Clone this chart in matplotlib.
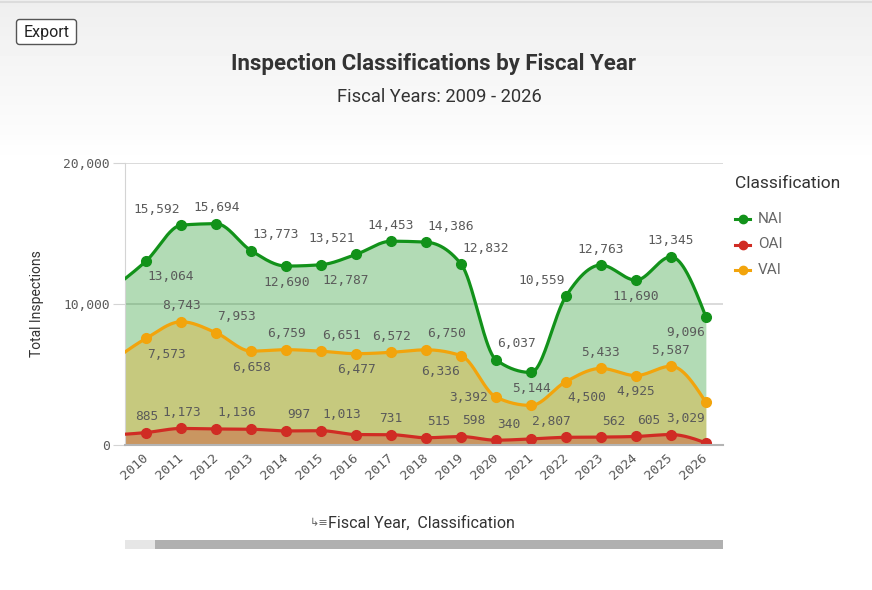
import numpy as np
import matplotlib.pyplot as plt
from matplotlib.lines import Line2D
from matplotlib.patches import FancyBboxPatch, Rectangle

# fiscal years (2009 sits just left of the visible window)
years = list(range(2009, 2027))
nai = [11050, 13064, 15592, 15694, 13773, 12690, 12787, 13521, 14453,
       14386, 12832, 6037, 5144, 10559, 12763, 11690, 13345, 9096]
oai = [700, 885, 1173, 1136, 1120, 997, 1013, 740, 731,
       515, 598, 340, 430, 545, 562, 605, 740, 150]
vai = [5900, 7573, 8743, 7953, 6658, 6759, 6651, 6477, 6572,
       6750, 6336, 3392, 2807, 4500, 5433, 4925, 5587, 3029]

# where each value label goes: c/r/l horizontally, a/b/m vertically, '' = hidden
nai_pos = ['', 'rb', 'la', 'ca', 'ra', 'cb', 'rb', 'la', 'ca', 'ra', 'ra', 'ra',
           'cb', 'la', 'ca', 'cb', 'ca', 'lb']
vai_pos = ['', 'rb', 'ca', 'ra', 'cb', 'ca', 'ra', 'cb', 'ca', 'ra', 'lb', 'lm',
           'rb', 'rb', 'ca', 'cb', 'ca', 'lb']
oai_pos = ['', 'ca', 'ca', 'ra', '', 'ra', 'ra', '', 'ca', 'ra', 'ra', 'ra',
           '', '', 'ra', 'ra', '', '']

GREEN = '#12921a'
RED = '#d02c24'
ORANGE = '#f2a40c'
TXT = '#5a5a5a'
MONO = 'DejaVu Sans Mono'
NARROW = ['Liberation Sans Narrow', 'Roboto']


def monotone(xs, ys, n=40):
    # monotone cubic (like d3 curveMonotoneX)
    xs = np.asarray(xs, float)
    ys = np.asarray(ys, float)
    h = np.diff(xs)
    s = np.diff(ys) / h
    m = np.zeros_like(ys)
    for k in range(1, len(ys) - 1):
        if s[k - 1] * s[k] <= 0:
            m[k] = 0
        else:
            p = (s[k - 1] * h[k] + s[k] * h[k - 1]) / (h[k - 1] + h[k])
            m[k] = (np.sign(s[k - 1]) + np.sign(s[k])) * min(abs(s[k - 1]), abs(s[k]), 0.5 * abs(p))
    m[0] = (3 * s[0] - m[1]) / 2
    m[-1] = (3 * s[-1] - m[-2]) / 2
    cx, cy = [], []
    for k in range(len(xs) - 1):
        t = np.linspace(0, 1, n, endpoint=False)
        h00 = 2 * t**3 - 3 * t**2 + 1
        h10 = t**3 - 2 * t**2 + t
        h01 = -2 * t**3 + 3 * t**2
        h11 = t**3 - t**2
        cx.append(xs[k] + t * h[k])
        cy.append(h00 * ys[k] + h10 * h[k] * m[k] + h01 * ys[k + 1] + h11 * h[k] * m[k + 1])
    cx.append([xs[-1]])
    cy.append([ys[-1]])
    return np.concatenate(cx), np.concatenate(cy)


fig = plt.figure(figsize=(8.72, 5.90), dpi=100)

# header gradient
bg = fig.add_axes([0, 0, 1, 1], zorder=-10)
grad = np.ones((590, 1))
grad[:165, 0] = np.linspace(0.935, 1.0, 165)
bg.imshow(grad, cmap='gray', vmin=0, vmax=1, aspect='auto', extent=[0, 872, 590, 0])
bg.plot([0, 872], [1.5, 1.5], color='#dcdcdc', lw=1.5)
bg.set_xlim(0, 872)
bg.set_ylim(590, 0)
bg.axis('off')

# export button
bg.add_patch(FancyBboxPatch((16.5, 19.5), 60, 25, boxstyle='round,pad=0,rounding_size=3',
                            facecolor='white', edgecolor='#555555', lw=1))
bg.text(46.5, 32.5, 'Export', ha='center', va='center', fontsize=11.5, color='#222222',
        family=NARROW)

fig.text(433 / 872, 1 - 64 / 590, 'Inspection Classifications by Fiscal Year', ha='center', va='center',
         fontsize=16, fontweight='bold', color='#333333', family=NARROW)
fig.text(439 / 872, 1 - 97 / 590, 'Fiscal Years: 2009 - 2026', ha='center', va='center',
         fontsize=13.2, color='#333333', family=NARROW)

ax = fig.add_axes([125 / 872, 1 - 445 / 590, 598 / 872, 282 / 590])
ax.set_facecolor('none')

series = [(nai, GREEN, nai_pos), (vai, ORANGE, vai_pos), (oai, RED, oai_pos)]
for vals, col, _ in series:
    cx, cy = monotone(years, vals)
    ax.fill_between(cx, 0, cy, color=col, alpha=0.32, lw=0, zorder=2)
for vals, col, _ in series:
    cx, cy = monotone(years, vals)
    ax.plot(cx, cy, color=col, lw=2.3, zorder=4, solid_capstyle='round')
    ax.plot(years, vals, 'o', color=col, ms=7, zorder=5)

hmap = {'c': ('center', 0), 'r': ('left', 1), 'l': ('right', -1)}
vmap = {'a': 16, 'b': -16, 'm': 0}
for vals, col, pos in series:
    for yr, v, p in zip(years, vals, pos):
        if not p:
            continue
        ha, dx = hmap[p[0]]
        dy = vmap[p[1]]
        if p[1] == 'm':
            dx = -8
        ax.annotate(f'{v:,}', (yr, v), xytext=(dx, dy), textcoords='offset pixels',
                    ha=ha, va='center', fontsize=9.3, color=TXT, family=MONO, zorder=6)

ax.set_xlim(2009.39, 2026.49)
ax.set_ylim(0, 20000)
ax.set_yticks([0, 10000, 20000])
ax.set_yticklabels(['0', '10,000', '20,000'], family=MONO, fontsize=9.3, color=TXT)
ax.set_xticks(years[1:])
ax.set_xticklabels([str(y) for y in years[1:]], rotation=42, ha='right', va='center',
                   rotation_mode='anchor', family=MONO, fontsize=9.5, color=TXT)
ax.tick_params(axis='x', length=0, pad=8)
ax.tick_params(axis='y', length=9, color='#d4d4d4', pad=2)
ax.grid(axis='y', color='#d4d4d4', lw=1.2, zorder=1)
for side in ['top', 'right']:
    ax.spines[side].set_visible(False)
ax.spines['left'].set_color('#d4d4d4')
ax.spines['bottom'].set_color('#b4b4b4')
ax.spines['bottom'].set_linewidth(1.5)
ax.spines['bottom'].set_zorder(7)
ax.set_ylabel('Total Inspections', fontsize=10, color='#333333', family='Roboto', labelpad=14)

# legend
fig.text(735 / 872, 1 - 183 / 590, 'Classification', ha='left', va='center',
         fontsize=12.5, color='#333333', family='Roboto')
for i, (name, col) in enumerate([('NAI', GREEN), ('OAI', RED), ('VAI', ORANGE)]):
    yy = 1 - (219 + 25.5 * i) / 590
    fig.add_artist(Line2D([735 / 872, 750 / 872], [yy, yy], color=col, lw=2.2,
                          transform=fig.transFigure))
    fig.add_artist(Line2D([742.5 / 872], [yy], marker='o', ms=6, color=col,
                          transform=fig.transFigure))
    fig.text(758 / 872, yy, name, ha='left', va='center', fontsize=11, color='#666666', family='Roboto')

# dimension label and scrollbar
fig.text(319 / 872, 1 - 523 / 590, '↳≡', ha='center', va='center', fontsize=8, color='#666666')
fig.text(328 / 872, 1 - 523 / 590, 'Fiscal Year,  Classification', ha='left', va='center',
         fontsize=11.5, color='#333333', family=NARROW)
bg.add_patch(Rectangle((125, 540), 30, 9, facecolor='#e6e6e6', lw=0))
bg.add_patch(Rectangle((155, 540), 568, 9, facecolor='#b0b0b0', lw=0))

fig.savefig('out.png', dpi=100)
